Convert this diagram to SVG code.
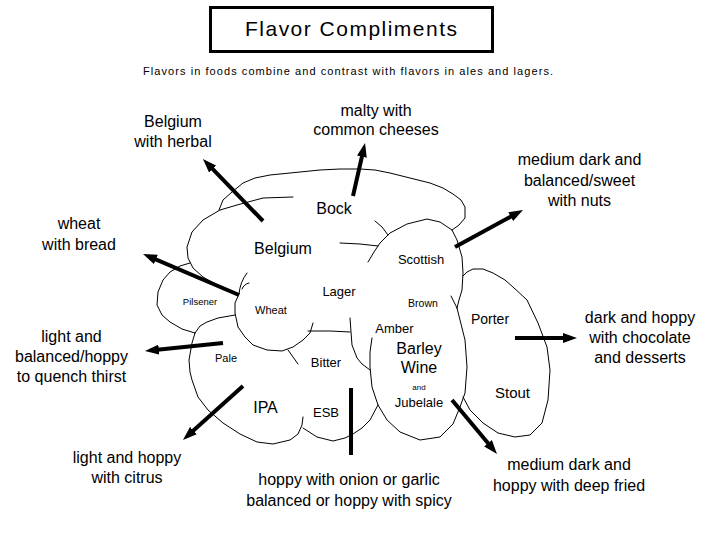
<svg xmlns="http://www.w3.org/2000/svg" width="705" height="534" viewBox="0 0 705 534">
<style>
text{font-family:"Liberation Sans",Arial,sans-serif;fill:#000;text-anchor:middle}
.o{fill:none;stroke:#000;stroke-width:1;stroke-linejoin:round;stroke-linecap:round}
.a{fill:none;stroke:#000;stroke-width:4}
.f{font-size:16px}
</style>
<defs>
<marker id="ah" viewBox="0 0 14 10" markerWidth="14" markerHeight="10" markerUnits="userSpaceOnUse" refX="4" refY="5" orient="auto">
<path d="M0,0 L14,5 L0,10 z" fill="#000"/>
</marker>
</defs>
<rect width="705" height="534" fill="#fff"/>
<g id="title">
<rect x="210.5" y="7.5" width="282" height="44" fill="none" stroke="#000" stroke-width="3"/>
<text x="351" y="36" style="font-size:21px" textLength="212" lengthAdjust="spacing">Flavor Compliments</text>
<text x="348" y="75" style="font-size:11px" textLength="410" lengthAdjust="spacing">Flavors in foods combine and contrast with flavors in ales and lagers.</text>
</g>
<g id="outlines">
<path class="o" d="M219,210 L223,200 L232,192 L243,183 L255,178 L270,175 L290,173 L320,170 L340,169 L360,169 L375,170 L390,173 L410,178 L430,183 L443,188 L453,194 L461,200 L465,207 L465,218 L459,225 L452,230"/>
<path class="o" d="M293,197 L263,198 L237,205 L220,210 L203,220 L192,232 L187,247 L188,258 L193,268 L203,277 L217,285 L238,294"/>
<path class="o" d="M190,263 L180,266 L170,272 L163,280 L158,292 L157,305 L162,315 L170,322 L182,329 L195,333"/>
<path class="o" d="M239,294 L235,303 L235,313 L238,327 L245,337 L253,345 L267,350 L282,351 L293,347 L303,340 L310,333 L313,323"/>
<path class="o" d="M239,294 Q240,282 247,273 M242,289 Q244,284 249,283"/>
<path class="o" d="M195,333 L200,326 L207,322 L218,318 L235,315"/>
<path class="o" d="M195,333 L192,343 L189,360 L190,372 L192,380 L198,397 L208,410 L223,423 L240,434 L257,442 L273,444 L290,440 L298,434 L302,425 L303,417"/>
<path class="o" d="M303,428 L317,437 L333,441 L345,438 L353,434 L362,428 L370,420 L378,405"/>
<path class="o" d="M308,331 L330,331 L350,332"/>
<path class="o" d="M350,318 L351,332 L352,345 L357,358 L362,364 L370,370"/>
<path class="o" d="M288,350 L298,364"/>
<path class="o" d="M372,338 L370,352 L370,367 L372,387 L378,405 L387,420 L400,432 L420,440 L440,437 L453,424 L460,407 L465,393 L467,367 L465,340 L460,320 L457,308"/>
<path class="o" d="M368,262 L374,252 L380,243 L390,233 L407,224 L427,219 L440,222 L452,230 L457,240 L462,257 L463,273 L462,290 L459,300 L457,308 M451,296 L457,308"/>
<path class="o" d="M375,221 L382,227 L388,235"/>
<path class="o" d="M340,243 L360,244 L378,246"/>
<path class="o" d="M463,276 L467,272 L473,269 L483,269 L493,273 L505,280 L513,287 L527,300 L538,323 L547,347 L550,370 L548,400 L542,423 L530,435 L515,437 L498,433 L483,423 L470,410 L463,397"/>
</g>
<g id="connectors">
<line class="a" x1="263" y1="221" x2="209.9" y2="166.2" marker-end="url(#ah)"/>
<line class="a" x1="353" y1="196" x2="362.8" y2="152.8" marker-end="url(#ah)"/>
<line class="a" x1="455" y1="247" x2="514.2" y2="214.8" marker-end="url(#ah)"/>
<line class="a" x1="239" y1="295" x2="152.2" y2="257.9" marker-end="url(#ah)"/>
<line class="a" x1="223" y1="343" x2="154.9" y2="350" marker-end="url(#ah)"/>
<line class="a" x1="243" y1="386" x2="190.4" y2="433.3" marker-end="url(#ah)"/>
<line class="a" x1="351" y1="388" x2="351" y2="455"/>
<line class="a" x1="515" y1="338" x2="567" y2="338" marker-end="url(#ah)"/>
<line class="a" x1="452" y1="400" x2="490.6" y2="446.3" marker-end="url(#ah)"/>
</g>
<g id="beer-bock"><text x="334" y="214" style="font-size:16px">Bock</text></g>
<g id="beer-belgium"><text x="283" y="254" style="font-size:16px">Belgium</text></g>
<g id="beer-scottish"><text x="421" y="264" style="font-size:13px">Scottish</text></g>
<g id="beer-lager"><text x="339" y="296" style="font-size:13px">Lager</text></g>
<g id="beer-pilsener"><text x="200" y="305" style="font-size:9.5px">Pilsener</text></g>
<g id="beer-wheat"><text x="271" y="314" style="font-size:11px">Wheat</text></g>
<g id="beer-brown"><text x="423" y="307" style="font-size:10.5px">Brown</text></g>
<g id="beer-amber"><text x="394.5" y="333" style="font-size:13px">Amber</text></g>
<g id="beer-barleywine">
<text x="419" y="354" style="font-size:16px">Barley</text>
<text x="419" y="373" style="font-size:16px">Wine</text>
<text x="419" y="390" style="font-size:8px">and</text>
<text x="419" y="407" style="font-size:13px">Jubelale</text>
</g>
<g id="beer-pale"><text x="226" y="362" style="font-size:11px">Pale</text></g>
<g id="beer-bitter"><text x="326" y="367" style="font-size:13px">Bitter</text></g>
<g id="beer-ipa"><text x="265.5" y="413" style="font-size:16px">IPA</text></g>
<g id="beer-esb"><text x="326" y="417" style="font-size:13px">ESB</text></g>
<g id="beer-porter"><text x="490" y="324" style="font-size:14px">Porter</text></g>
<g id="beer-stout"><text x="512.5" y="398" style="font-size:15px">Stout</text></g>
<g id="food-herbal" class="f"><text x="173" y="127">Belgium</text><text x="173" y="147">with herbal</text></g>
<g id="food-cheeses" class="f"><text x="376" y="116">malty with</text><text x="376" y="135">common cheeses</text></g>
<g id="food-nuts" class="f"><text x="579.5" y="165">medium dark and</text><text x="579.5" y="186">balanced/sweet</text><text x="579.5" y="206">with nuts</text></g>
<g id="food-bread" class="f"><text x="79" y="229">wheat</text><text x="79" y="250">with bread</text></g>
<g id="food-thirst" class="f"><text x="71.5" y="342">light and</text><text x="71.5" y="362">balanced/hoppy</text><text x="71.5" y="382">to quench thirst</text></g>
<g id="food-chocolate" class="f"><text x="640" y="323">dark and hoppy</text><text x="640" y="343">with chocolate</text><text x="640" y="363">and desserts</text></g>
<g id="food-citrus" class="f"><text x="127" y="463">light and hoppy</text><text x="127" y="483">with citrus</text></g>
<g id="food-spicy" class="f"><text x="349" y="485">hoppy with onion or garlic</text><text x="349" y="506">balanced or hoppy with spicy</text></g>
<g id="food-fried" class="f"><text x="569" y="470">medium dark and</text><text x="569" y="491">hoppy with deep fried</text></g>
</svg>
